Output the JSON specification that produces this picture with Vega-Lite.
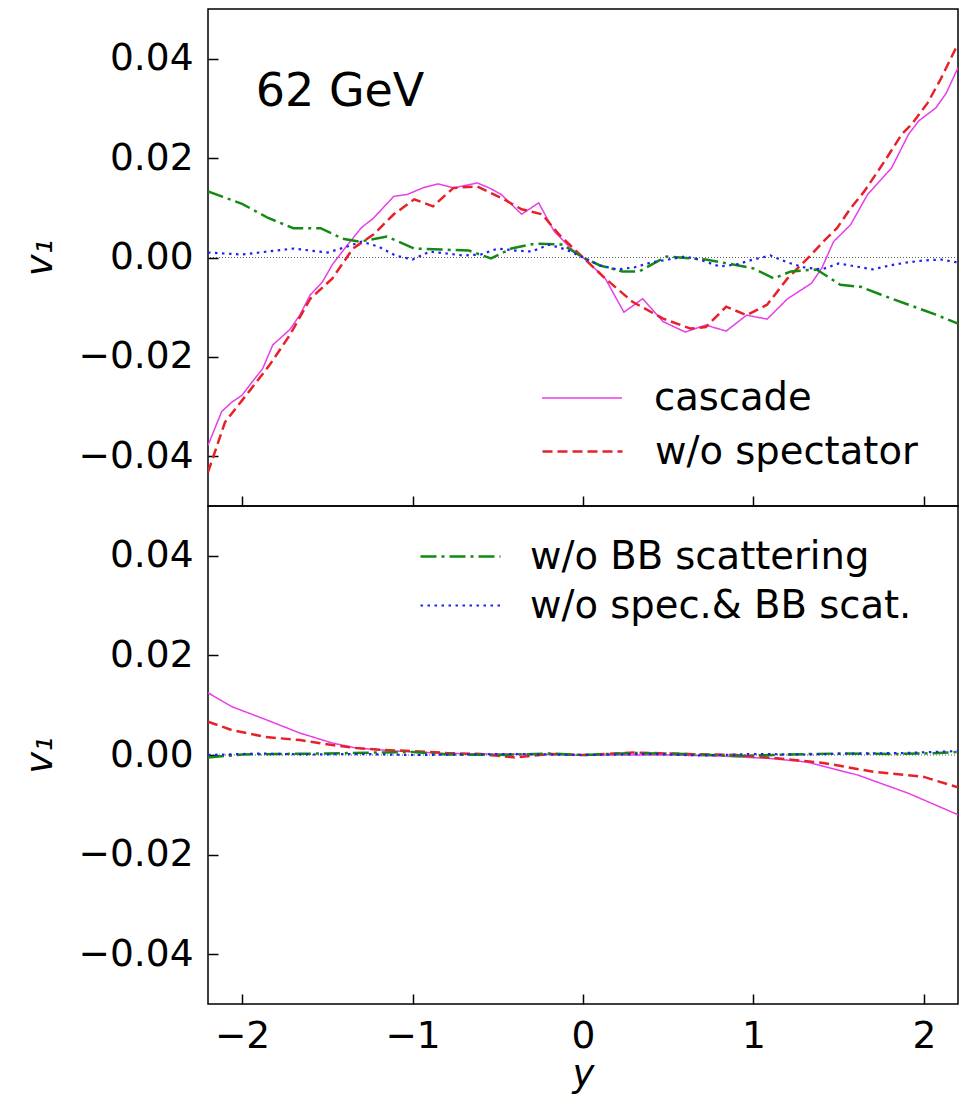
{
  "$schema": "https://vega.github.io/schema/vega-lite/v6.json",
  "padding": {"left": 20, "top": 8, "right": 5, "bottom": 0},
  "spacing": 0,
  "bounds": "flush",
  "config": {
    "view": {"stroke": "black", "strokeWidth": 1.5},
    "axis": {"domain": false, "grid": false, "tickColor": "black", "tickSize": -10, "tickWidth": 1.5, "labelFontSize": 37.5, "labelFont": "DejaVu Sans", "labelColor": "black", "titleFont": "DejaVu Sans", "titleFontSize": 37, "titleFontWeight": "normal", "titleColor": "black", "labelPadding": 25, "labelFlush": false, "labelOverlap": false},
    "legend": {"title": null, "symbolType": "stroke", "symbolSize": 6400, "symbolStrokeWidth": 2, "labelFontSize": 38.5, "labelFont": "DejaVu Sans", "labelColor": "black", "labelLimit": 0, "orient": "none"},
    "line": {"clip": true}
  },
  "datasets": {
    "top": [
      {"x": -2.2, "v": -0.0378, "s": "cascade"}, {"x": -2.12, "v": -0.031, "s": "cascade"}, {"x": -2.06, "v": -0.0291, "s": "cascade"}, {"x": -2.0, "v": -0.0277, "s": "cascade"}, {"x": -1.94, "v": -0.025, "s": "cascade"}, {"x": -1.88, "v": -0.0224, "s": "cascade"}, {"x": -1.82, "v": -0.0176, "s": "cascade"}, {"x": -1.72, "v": -0.0145, "s": "cascade"}, {"x": -1.66, "v": -0.0115, "s": "cascade"}, {"x": -1.6, "v": -0.0075, "s": "cascade"}, {"x": -1.53, "v": -0.005, "s": "cascade"}, {"x": -1.47, "v": -0.0014, "s": "cascade"}, {"x": -1.38, "v": 0.0026, "s": "cascade"}, {"x": -1.3, "v": 0.006, "s": "cascade"}, {"x": -1.23, "v": 0.0079, "s": "cascade"}, {"x": -1.11, "v": 0.0123, "s": "cascade"}, {"x": -1.03, "v": 0.0127, "s": "cascade"}, {"x": -0.94, "v": 0.014, "s": "cascade"}, {"x": -0.85, "v": 0.0148, "s": "cascade"}, {"x": -0.76, "v": 0.014, "s": "cascade"}, {"x": -0.62, "v": 0.015, "s": "cascade"}, {"x": -0.55, "v": 0.014, "s": "cascade"}, {"x": -0.48, "v": 0.0127, "s": "cascade"}, {"x": -0.36, "v": 0.0087, "s": "cascade"}, {"x": -0.26, "v": 0.011, "s": "cascade"}, {"x": -0.17, "v": 0.0053, "s": "cascade"}, {"x": -0.07, "v": 0.0018, "s": "cascade"}, {"x": 0.0, "v": 0.0, "s": "cascade"}, {"x": 0.13, "v": -0.0042, "s": "cascade"}, {"x": 0.24, "v": -0.011, "s": "cascade"}, {"x": 0.35, "v": -0.0083, "s": "cascade"}, {"x": 0.47, "v": -0.0129, "s": "cascade"}, {"x": 0.6, "v": -0.015, "s": "cascade"}, {"x": 0.72, "v": -0.0136, "s": "cascade"}, {"x": 0.84, "v": -0.0148, "s": "cascade"}, {"x": 0.96, "v": -0.0116, "s": "cascade"}, {"x": 1.08, "v": -0.0124, "s": "cascade"}, {"x": 1.2, "v": -0.0083, "s": "cascade"}, {"x": 1.34, "v": -0.0052, "s": "cascade"}, {"x": 1.4, "v": -0.0022, "s": "cascade"}, {"x": 1.47, "v": 0.0032, "s": "cascade"}, {"x": 1.57, "v": 0.0066, "s": "cascade"}, {"x": 1.67, "v": 0.0127, "s": "cascade"}, {"x": 1.81, "v": 0.018, "s": "cascade"}, {"x": 1.91, "v": 0.0248, "s": "cascade"}, {"x": 1.97, "v": 0.0275, "s": "cascade"}, {"x": 2.07, "v": 0.0301, "s": "cascade"}, {"x": 2.13, "v": 0.033, "s": "cascade"}, {"x": 2.2, "v": 0.0382, "s": "cascade"},
      {"x": -2.2, "v": -0.0432, "s": "w/o spectator"}, {"x": -2.1, "v": -0.0331, "s": "w/o spectator"}, {"x": -1.96, "v": -0.027, "s": "w/o spectator"}, {"x": -1.84, "v": -0.0217, "s": "w/o spectator"}, {"x": -1.72, "v": -0.0156, "s": "w/o spectator"}, {"x": -1.6, "v": -0.0083, "s": "w/o spectator"}, {"x": -1.47, "v": -0.0042, "s": "w/o spectator"}, {"x": -1.35, "v": 0.0018, "s": "w/o spectator"}, {"x": -1.23, "v": 0.0046, "s": "w/o spectator"}, {"x": -1.11, "v": 0.0087, "s": "w/o spectator"}, {"x": -0.99, "v": 0.0117, "s": "w/o spectator"}, {"x": -0.88, "v": 0.0103, "s": "w/o spectator"}, {"x": -0.76, "v": 0.014, "s": "w/o spectator"}, {"x": -0.62, "v": 0.0143, "s": "w/o spectator"}, {"x": -0.48, "v": 0.012, "s": "w/o spectator"}, {"x": -0.36, "v": 0.0097, "s": "w/o spectator"}, {"x": -0.24, "v": 0.0087, "s": "w/o spectator"}, {"x": -0.14, "v": 0.0046, "s": "w/o spectator"}, {"x": 0.0, "v": 0.0, "s": "w/o spectator"}, {"x": 0.13, "v": -0.0042, "s": "w/o spectator"}, {"x": 0.29, "v": -0.0089, "s": "w/o spectator"}, {"x": 0.47, "v": -0.0123, "s": "w/o spectator"}, {"x": 0.63, "v": -0.0143, "s": "w/o spectator"}, {"x": 0.72, "v": -0.014, "s": "w/o spectator"}, {"x": 0.84, "v": -0.0099, "s": "w/o spectator"}, {"x": 0.96, "v": -0.0116, "s": "w/o spectator"}, {"x": 1.08, "v": -0.0095, "s": "w/o spectator"}, {"x": 1.2, "v": -0.0042, "s": "w/o spectator"}, {"x": 1.34, "v": 0.0006, "s": "w/o spectator"}, {"x": 1.41, "v": 0.0032, "s": "w/o spectator"}, {"x": 1.49, "v": 0.0059, "s": "w/o spectator"}, {"x": 1.57, "v": 0.0099, "s": "w/o spectator"}, {"x": 1.65, "v": 0.0133, "s": "w/o spectator"}, {"x": 1.77, "v": 0.0194, "s": "w/o spectator"}, {"x": 1.87, "v": 0.0248, "s": "w/o spectator"}, {"x": 1.93, "v": 0.0269, "s": "w/o spectator"}, {"x": 2.02, "v": 0.031, "s": "w/o spectator"}, {"x": 2.1, "v": 0.036, "s": "w/o spectator"}, {"x": 2.2, "v": 0.043, "s": "w/o spectator"},
      {"x": -2.2, "v": 0.0133, "s": "w/o BB scattering"}, {"x": -2.0, "v": 0.0108, "s": "w/o BB scattering"}, {"x": -1.85, "v": 0.008, "s": "w/o BB scattering"}, {"x": -1.7, "v": 0.0059, "s": "w/o BB scattering"}, {"x": -1.54, "v": 0.0059, "s": "w/o BB scattering"}, {"x": -1.41, "v": 0.0038, "s": "w/o BB scattering"}, {"x": -1.31, "v": 0.0032, "s": "w/o BB scattering"}, {"x": -1.15, "v": 0.0042, "s": "w/o BB scattering"}, {"x": -0.99, "v": 0.0018, "s": "w/o BB scattering"}, {"x": -0.83, "v": 0.0016, "s": "w/o BB scattering"}, {"x": -0.67, "v": 0.0014, "s": "w/o BB scattering"}, {"x": -0.54, "v": -0.0002, "s": "w/o BB scattering"}, {"x": -0.42, "v": 0.0018, "s": "w/o BB scattering"}, {"x": -0.28, "v": 0.0028, "s": "w/o BB scattering"}, {"x": -0.12, "v": 0.0026, "s": "w/o BB scattering"}, {"x": 0.0, "v": 0.0, "s": "w/o BB scattering"}, {"x": 0.1, "v": -0.0016, "s": "w/o BB scattering"}, {"x": 0.23, "v": -0.0028, "s": "w/o BB scattering"}, {"x": 0.33, "v": -0.0028, "s": "w/o BB scattering"}, {"x": 0.49, "v": 0.0002, "s": "w/o BB scattering"}, {"x": 0.72, "v": -0.0004, "s": "w/o BB scattering"}, {"x": 0.88, "v": -0.0014, "s": "w/o BB scattering"}, {"x": 1.0, "v": -0.0022, "s": "w/o BB scattering"}, {"x": 1.12, "v": -0.0042, "s": "w/o BB scattering"}, {"x": 1.22, "v": -0.0028, "s": "w/o BB scattering"}, {"x": 1.37, "v": -0.0024, "s": "w/o BB scattering"}, {"x": 1.51, "v": -0.0055, "s": "w/o BB scattering"}, {"x": 1.63, "v": -0.0059, "s": "w/o BB scattering"}, {"x": 1.75, "v": -0.0075, "s": "w/o BB scattering"}, {"x": 1.91, "v": -0.0095, "s": "w/o BB scattering"}, {"x": 2.07, "v": -0.0115, "s": "w/o BB scattering"}, {"x": 2.2, "v": -0.0133, "s": "w/o BB scattering"},
      {"x": -2.2, "v": 0.001, "s": "w/o spec.& BB scat."}, {"x": -2.1, "v": 0.0008, "s": "w/o spec.& BB scat."}, {"x": -2.0, "v": 0.0006, "s": "w/o spec.& BB scat."}, {"x": -1.9, "v": 0.001, "s": "w/o spec.& BB scat."}, {"x": -1.8, "v": 0.0014, "s": "w/o spec.& BB scat."}, {"x": -1.7, "v": 0.0018, "s": "w/o spec.& BB scat."}, {"x": -1.6, "v": 0.0014, "s": "w/o spec.& BB scat."}, {"x": -1.5, "v": 0.001, "s": "w/o spec.& BB scat."}, {"x": -1.4, "v": 0.002, "s": "w/o spec.& BB scat."}, {"x": -1.3, "v": 0.0032, "s": "w/o spec.& BB scat."}, {"x": -1.2, "v": 0.0022, "s": "w/o spec.& BB scat."}, {"x": -1.1, "v": 0.0004, "s": "w/o spec.& BB scat."}, {"x": -1.0, "v": -0.0004, "s": "w/o spec.& BB scat."}, {"x": -0.9, "v": 0.0012, "s": "w/o spec.& BB scat."}, {"x": -0.8, "v": 0.0008, "s": "w/o spec.& BB scat."}, {"x": -0.7, "v": 0.0004, "s": "w/o spec.& BB scat."}, {"x": -0.6, "v": 0.0006, "s": "w/o spec.& BB scat."}, {"x": -0.5, "v": 0.0018, "s": "w/o spec.& BB scat."}, {"x": -0.4, "v": 0.0014, "s": "w/o spec.& BB scat."}, {"x": -0.3, "v": 0.0012, "s": "w/o spec.& BB scat."}, {"x": -0.2, "v": 0.0026, "s": "w/o spec.& BB scat."}, {"x": -0.1, "v": 0.0016, "s": "w/o spec.& BB scat."}, {"x": 0.0, "v": 0.0, "s": "w/o spec.& BB scat."}, {"x": 0.1, "v": -0.0016, "s": "w/o spec.& BB scat."}, {"x": 0.2, "v": -0.0024, "s": "w/o spec.& BB scat."}, {"x": 0.3, "v": -0.002, "s": "w/o spec.& BB scat."}, {"x": 0.4, "v": -0.001, "s": "w/o spec.& BB scat."}, {"x": 0.5, "v": -0.0004, "s": "w/o spec.& BB scat."}, {"x": 0.6, "v": 0.0002, "s": "w/o spec.& BB scat."}, {"x": 0.7, "v": -0.0006, "s": "w/o spec.& BB scat."}, {"x": 0.8, "v": -0.0018, "s": "w/o spec.& BB scat."}, {"x": 0.9, "v": -0.0014, "s": "w/o spec.& BB scat."}, {"x": 1.0, "v": -0.0004, "s": "w/o spec.& BB scat."}, {"x": 1.1, "v": 0.0004, "s": "w/o spec.& BB scat."}, {"x": 1.2, "v": -0.001, "s": "w/o spec.& BB scat."}, {"x": 1.3, "v": -0.002, "s": "w/o spec.& BB scat."}, {"x": 1.4, "v": -0.0024, "s": "w/o spec.& BB scat."}, {"x": 1.5, "v": -0.0012, "s": "w/o spec.& BB scat."}, {"x": 1.6, "v": -0.0018, "s": "w/o spec.& BB scat."}, {"x": 1.7, "v": -0.0024, "s": "w/o spec.& BB scat."}, {"x": 1.8, "v": -0.0016, "s": "w/o spec.& BB scat."}, {"x": 1.9, "v": -0.001, "s": "w/o spec.& BB scat."}, {"x": 2.0, "v": -0.0006, "s": "w/o spec.& BB scat."}, {"x": 2.1, "v": -0.0004, "s": "w/o spec.& BB scat."}, {"x": 2.2, "v": -0.001, "s": "w/o spec.& BB scat."}
    ],
    "bot": [
      {"x": -2.2, "v": 0.0125, "s": "cascade"}, {"x": -2.06, "v": 0.0097, "s": "cascade"}, {"x": -1.86, "v": 0.0071, "s": "cascade"}, {"x": -1.66, "v": 0.0044, "s": "cascade"}, {"x": -1.47, "v": 0.0024, "s": "cascade"}, {"x": -1.33, "v": 0.0014, "s": "cascade"}, {"x": -1.1, "v": 0.0008, "s": "cascade"}, {"x": -0.8, "v": 0.0003, "s": "cascade"}, {"x": -0.5, "v": 0.0002, "s": "cascade"}, {"x": 0.0, "v": 0.0, "s": "cascade"}, {"x": 0.5, "v": 0.0, "s": "cascade"}, {"x": 0.8, "v": -0.0002, "s": "cascade"}, {"x": 1.1, "v": -0.0007, "s": "cascade"}, {"x": 1.31, "v": -0.0014, "s": "cascade"}, {"x": 1.61, "v": -0.004, "s": "cascade"}, {"x": 1.91, "v": -0.0077, "s": "cascade"}, {"x": 2.2, "v": -0.012, "s": "cascade"},
      {"x": -2.2, "v": 0.0067, "s": "w/o spectator"}, {"x": -2.06, "v": 0.005, "s": "w/o spectator"}, {"x": -1.86, "v": 0.0036, "s": "w/o spectator"}, {"x": -1.66, "v": 0.003, "s": "w/o spectator"}, {"x": -1.47, "v": 0.002, "s": "w/o spectator"}, {"x": -1.33, "v": 0.0014, "s": "w/o spectator"}, {"x": -1.17, "v": 0.001, "s": "w/o spectator"}, {"x": -1.0, "v": 0.0008, "s": "w/o spectator"}, {"x": -0.8, "v": 0.0004, "s": "w/o spectator"}, {"x": -0.6, "v": 0.0002, "s": "w/o spectator"}, {"x": -0.4, "v": -0.0005, "s": "w/o spectator"}, {"x": -0.2, "v": 0.0002, "s": "w/o spectator"}, {"x": 0.0, "v": 0.0, "s": "w/o spectator"}, {"x": 0.3, "v": 0.0005, "s": "w/o spectator"}, {"x": 0.6, "v": 0.0002, "s": "w/o spectator"}, {"x": 0.9, "v": 0.0, "s": "w/o spectator"}, {"x": 1.12, "v": -0.0006, "s": "w/o spectator"}, {"x": 1.41, "v": -0.0016, "s": "w/o spectator"}, {"x": 1.71, "v": -0.0034, "s": "w/o spectator"}, {"x": 2.0, "v": -0.0044, "s": "w/o spectator"}, {"x": 2.2, "v": -0.0065, "s": "w/o spectator"},
      {"x": -2.2, "v": -0.0005, "s": "w/o BB scattering"}, {"x": -2.0, "v": 0.0001, "s": "w/o BB scattering"}, {"x": -1.8, "v": 0.0002, "s": "w/o BB scattering"}, {"x": -1.5, "v": 0.0003, "s": "w/o BB scattering"}, {"x": -1.2, "v": 0.0005, "s": "w/o BB scattering"}, {"x": -1.0, "v": 0.0006, "s": "w/o BB scattering"}, {"x": -0.8, "v": 0.0001, "s": "w/o BB scattering"}, {"x": -0.5, "v": 0.0, "s": "w/o BB scattering"}, {"x": -0.2, "v": 0.0003, "s": "w/o BB scattering"}, {"x": 0.0, "v": 0.0, "s": "w/o BB scattering"}, {"x": 0.3, "v": 0.0004, "s": "w/o BB scattering"}, {"x": 0.6, "v": 0.0002, "s": "w/o BB scattering"}, {"x": 0.9, "v": -0.0002, "s": "w/o BB scattering"}, {"x": 1.2, "v": 0.0001, "s": "w/o BB scattering"}, {"x": 1.5, "v": 0.0003, "s": "w/o BB scattering"}, {"x": 1.8, "v": 0.0002, "s": "w/o BB scattering"}, {"x": 2.0, "v": 0.0003, "s": "w/o BB scattering"}, {"x": 2.2, "v": 0.0006, "s": "w/o BB scattering"},
      {"x": -2.2, "v": 0.0, "s": "w/o spec.& BB scat."}, {"x": -1.9, "v": 0.0003, "s": "w/o spec.& BB scat."}, {"x": -1.6, "v": 0.0001, "s": "w/o spec.& BB scat."}, {"x": -1.3, "v": 0.0002, "s": "w/o spec.& BB scat."}, {"x": -1.0, "v": 0.0, "s": "w/o spec.& BB scat."}, {"x": -0.7, "v": 0.0001, "s": "w/o spec.& BB scat."}, {"x": -0.4, "v": 0.0002, "s": "w/o spec.& BB scat."}, {"x": 0.0, "v": 0.0, "s": "w/o spec.& BB scat."}, {"x": 0.4, "v": 0.0002, "s": "w/o spec.& BB scat."}, {"x": 0.7, "v": -0.0001, "s": "w/o spec.& BB scat."}, {"x": 1.0, "v": 0.0002, "s": "w/o spec.& BB scat."}, {"x": 1.3, "v": 0.0001, "s": "w/o spec.& BB scat."}, {"x": 1.6, "v": 0.0003, "s": "w/o spec.& BB scat."}, {"x": 1.9, "v": 0.0004, "s": "w/o spec.& BB scat."}, {"x": 2.2, "v": 0.0008, "s": "w/o spec.& BB scat."}
    ]
  },
  "resolve": {
    "scale": {"color": "independent", "strokeDash": "independent", "strokeWidth": "independent"},
    "legend": {"color": "independent", "strokeDash": "independent"}
  },
  "vconcat": [
    {
      "width": 750,
      "height": 497,
      "resolve": {"scale": {"color": "independent", "strokeDash": "independent", "strokeWidth": "independent"}},
      "layer": [
        {
          "data": {"values": [{}]},
          "mark": {"type": "rule", "stroke": "#333333", "strokeWidth": 0.8, "strokeDash": [1, 2]},
          "encoding": {"y": {"datum": 0, "type": "quantitative", "scale": {"domain": [-0.05, 0.05], "nice": false, "zero": false}}}
        },
        {
          "data": {"name": "top"},
          "transform": [{"filter": {"field": "s", "oneOf": ["cascade", "w/o spectator"]}}],
          "mark": {"type": "line", "clip": true},
          "encoding": {
            "x": {"field": "x", "type": "quantitative", "scale": {"domain": [-2.2, 2.2], "nice": false, "zero": false}, "axis": {"values": [-2, -1, 0, 1, 2], "labels": false, "title": null}},
            "y": {"field": "v", "type": "quantitative", "scale": {"domain": [-0.05, 0.05], "nice": false, "zero": false}, "axis": {"values": [-0.04, -0.02, 0, 0.02, 0.04], "format": ".2f", "title": "v₁", "titleFontStyle": "italic", "titlePadding": 19}},
            "color": {"field": "s", "type": "nominal", "scale": {"domain": ["cascade", "w/o spectator"], "range": ["#e83ee8", "#e8202a"]}, "legend": {"values": ["cascade"], "legendX": 333, "legendY": 348, "labelOffset": 31, "symbolStrokeWidth": 1.5}},
            "strokeDash": {"field": "s", "type": "nominal", "scale": {"domain": ["w/o spectator", "cascade"], "range": [[10, 5], [1, 0]]}, "legend": {"values": ["w/o spectator"], "legendX": 333, "legendY": 401, "labelOffset": 31, "symbolStrokeColor": "#e8202a", "symbolStrokeWidth": 2.5}},
            "strokeWidth": {"field": "s", "type": "nominal", "scale": {"domain": ["cascade", "w/o spectator"], "range": [1.5, 2.5]}, "legend": null}
          }
        },
        {
          "data": {"name": "top"},
          "transform": [{"filter": {"field": "s", "oneOf": ["w/o BB scattering", "w/o spec.& BB scat."]}}],
          "mark": {"type": "line", "clip": true},
          "encoding": {
            "x": {"field": "x", "type": "quantitative"},
            "y": {"field": "v", "type": "quantitative"},
            "color": {"field": "s", "type": "nominal", "scale": {"domain": ["w/o BB scattering", "w/o spec.& BB scat."], "range": ["#138a13", "#2020f0"]}, "legend": null},
            "strokeDash": {"field": "s", "type": "nominal", "scale": {"domain": ["w/o BB scattering", "w/o spec.& BB scat."], "range": [[16, 5, 3, 5], [2.5, 4.5]]}, "legend": null},
            "strokeWidth": {"field": "s", "type": "nominal", "scale": {"domain": ["w/o BB scattering", "w/o spec.& BB scat."], "range": [2.5, 2.2]}, "legend": null}
          }
        },
        {
          "data": {"values": [{}]},
          "mark": {"type": "text", "align": "left", "baseline": "middle", "fontSize": 46, "font": "DejaVu Sans", "color": "black", "text": "62 GeV"},
          "encoding": {"x": {"datum": -1.92, "type": "quantitative"}, "y": {"datum": 0.0332, "type": "quantitative"}}
        }
      ]
    },
    {
      "width": 750,
      "height": 498,
      "resolve": {"scale": {"color": "independent", "strokeDash": "independent", "strokeWidth": "independent"}},
      "layer": [
        {
          "data": {"values": [{}]},
          "mark": {"type": "rule", "stroke": "#333333", "strokeWidth": 0.8, "strokeDash": [1, 2]},
          "encoding": {"y": {"datum": 0, "type": "quantitative", "scale": {"domain": [-0.05, 0.05], "nice": false, "zero": false}}}
        },
        {
          "data": {"name": "bot"},
          "transform": [{"filter": {"field": "s", "oneOf": ["cascade", "w/o spectator"]}}],
          "mark": {"type": "line", "clip": true},
          "encoding": {
            "x": {"field": "x", "type": "quantitative", "scale": {"domain": [-2.2, 2.2], "nice": false, "zero": false}, "axis": {"values": [-2, -1, 0, 1, 2], "format": "d", "title": "y", "titleFontStyle": "italic", "titlePadding": 2, "labelPadding": 23}},
            "y": {"field": "v", "type": "quantitative", "scale": {"domain": [-0.05, 0.05], "nice": false, "zero": false}, "axis": {"values": [-0.04, -0.02, 0, 0.02, 0.04], "format": ".2f", "title": "v₁", "titleFontStyle": "italic", "titlePadding": 19}},
            "color": {"field": "s", "type": "nominal", "scale": {"domain": ["cascade", "w/o spectator"], "range": ["#e83ee8", "#e8202a"]}, "legend": null},
            "strokeDash": {"field": "s", "type": "nominal", "scale": {"domain": ["cascade", "w/o spectator"], "range": [[1, 0], [10, 5]]}, "legend": null},
            "strokeWidth": {"field": "s", "type": "nominal", "scale": {"domain": ["cascade", "w/o spectator"], "range": [1.5, 2.5]}, "legend": null}
          }
        },
        {
          "data": {"name": "bot"},
          "transform": [{"filter": {"field": "s", "oneOf": ["w/o BB scattering", "w/o spec.& BB scat."]}}],
          "mark": {"type": "line", "clip": true},
          "encoding": {
            "x": {"field": "x", "type": "quantitative"},
            "y": {"field": "v", "type": "quantitative"},
            "color": {"field": "s", "type": "nominal", "scale": {"domain": ["w/o BB scattering", "w/o spec.& BB scat."], "range": ["#138a13", "#2020f0"]}, "legend": {"values": ["w/o BB scattering"], "legendX": 211, "legendY": 9, "labelOffset": 28, "symbolStrokeWidth": 2.5, "symbolDash": [16, 5, 3, 5]}},
            "strokeDash": {"field": "s", "type": "nominal", "scale": {"domain": ["w/o spec.& BB scat.", "w/o BB scattering"], "range": [[2.5, 4.5], [16, 5, 3, 5]]}, "legend": {"values": ["w/o spec.& BB scat."], "legendX": 211, "legendY": 58, "labelOffset": 28, "symbolStrokeColor": "#2020f0", "symbolStrokeWidth": 2.2}},
            "strokeWidth": {"field": "s", "type": "nominal", "scale": {"domain": ["w/o BB scattering", "w/o spec.& BB scat."], "range": [2.5, 2.2]}, "legend": null}
          }
        }
      ]
    }
  ]
}
